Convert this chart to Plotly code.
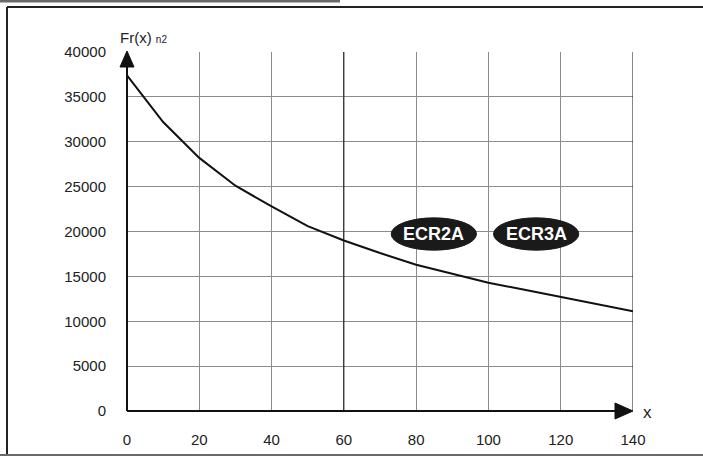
import plotly.graph_objects as go

# curve
x_vals = [0, 10, 20, 30, 40, 50, 60, 70, 80, 90, 100, 110, 120, 130, 140]
fr_vals = [37400, 32200, 28200, 25100, 22800, 20600, 19000, 17600, 16300,
           15300, 14300, 13500, 12700, 11900, 11100]
x_ticks = [0, 20, 40, 60, 80, 100, 120, 140]
y_ticks = [0, 5000, 10000, 15000, 20000, 25000, 30000, 35000, 40000]
badges = ["ECR2A", "ECR3A"]

W, H = 703, 460
L, R, T, B = 127, 70, 52, 49
pw, ph = W - L - R, H - T - B


def px(x):
    return (x - L) / pw


def py(y):
    return (H - B - y) / ph


fig = go.Figure()
fig.add_trace(go.Scatter(x=x_vals, y=fr_vals, mode="lines",
                         line=dict(color="#111111", width=2), showlegend=False,
                         hoverinfo="skip"))

dark = "#111111"
shapes = []
# outer frame
shapes.append(dict(type="line", xref="paper", yref="paper", x0=px(0), x1=px(340), y0=py(1), y1=py(1),
                   line=dict(color="#6a6a6a", width=3)))
shapes.append(dict(type="line", xref="paper", yref="paper", x0=px(7), x1=px(704), y0=py(7), y1=py(7),
                   line=dict(color="#222222", width=2)))
shapes.append(dict(type="line", xref="paper", yref="paper", x0=px(7), x1=px(7), y0=py(7), y1=py(454),
                   line=dict(color="#222222", width=2)))
shapes.append(dict(type="line", xref="paper", yref="paper", x0=px(0), x1=px(704), y0=py(455), y1=py(455),
                   line=dict(color="#6a6a6a", width=2)))
# darker verticals
for xv in [60, 140]:
    shapes.append(dict(type="line", xref="x", yref="y", x0=xv, x1=xv, y0=0, y1=40000,
                       line=dict(color=dark, width=1)))
# axes with arrows (paper refs so they are not clipped)
shapes.append(dict(type="line", xref="paper", yref="paper", x0=0, x1=0, y0=0, y1=py(66),
                   line=dict(color=dark, width=2)))
shapes.append(dict(type="path", xref="paper", yref="paper",
                   path="M %f,%f L %f,%f L %f,%f Z" % (px(120), py(67), px(127), py(51), px(134), py(67)),
                   fillcolor=dark, line=dict(color=dark, width=1)))
shapes.append(dict(type="line", xref="paper", yref="paper", x0=0, x1=px(616), y0=0, y1=0,
                   line=dict(color=dark, width=2)))
shapes.append(dict(type="path", xref="paper", yref="paper",
                   path="M %f,%f L %f,%f L %f,%f Z" % (px(615), py(403), px(633), py(411), px(615), py(419)),
                   fillcolor=dark, line=dict(color=dark, width=1)))
# badges
for cx in [84.9, 113.2]:
    shapes.append(dict(type="circle", xref="x", yref="y", x0=cx - 11.8, x1=cx + 11.8,
                       y0=19720 - 1800, y1=19720 + 1800,
                       fillcolor="#1a1a1a", line=dict(color="#1a1a1a", width=1)))

annotations = []
for name, cx in zip(badges, [84.9, 113.2]):
    annotations.append(dict(x=cx, y=19720, xref="x", yref="y", text="<b>" + name + "</b>",
                            showarrow=False, font=dict(color="white", size=18,
                                                       family="Liberation Sans, Arial")))
annotations.append(dict(x=px(118), y=py(38), xref="paper", yref="paper", xanchor="left",
                        yanchor="middle", showarrow=False,
                        text="Fr(x) <span style='font-size:10px'>n2</span>",
                        font=dict(size=15, color="#222222", family="Liberation Sans, Arial")))
annotations.append(dict(x=px(641), y=py(412), xref="paper", yref="paper", xanchor="left",
                        yanchor="middle", showarrow=False, text="x",
                        font=dict(size=17, color="#222222", family="Liberation Sans, Arial")))

fig.update_layout(
    width=W, height=H,
    margin=dict(l=L, r=R, t=T, b=B),
    paper_bgcolor="white", plot_bgcolor="white",
    font=dict(family="Liberation Sans, Arial", size=15, color="#222222"),
    xaxis=dict(range=[0, 140], tickvals=x_ticks, ticktext=[str(v) for v in x_ticks],
               showgrid=True, gridcolor="#8c8c8c",
               gridwidth=1, zeroline=False, showline=False, ticks="",
               ticklabelstandoff=18, fixedrange=True),
    yaxis=dict(range=[0, 40000], tickvals=y_ticks, ticktext=[str(v) for v in y_ticks],
               showgrid=True, gridcolor="#8c8c8c",
               gridwidth=1, zeroline=False, showline=False, ticks="",
               ticklabelstandoff=20, fixedrange=True),
    shapes=shapes,
    annotations=annotations,
)

# page has a default 8px body margin; drop it so the figure sits at the window corner
fig.write_html("out.html", config={"displayModeBar": False},
               post_script="document.body.style.margin='0px';")
